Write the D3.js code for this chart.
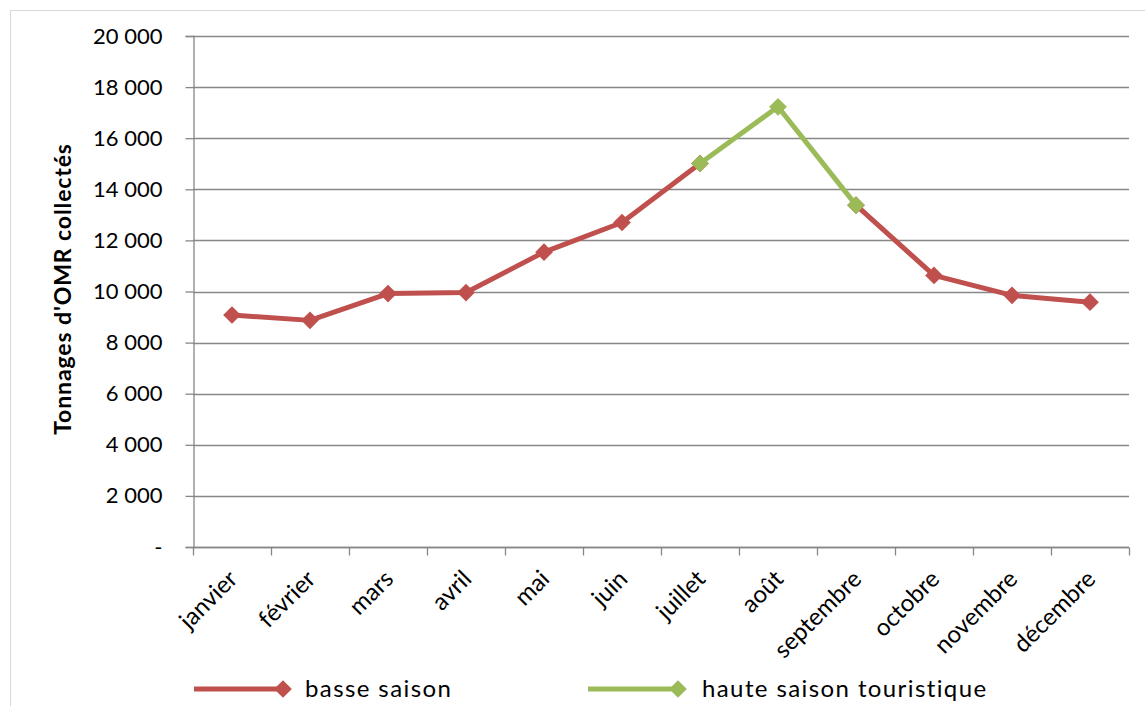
<!DOCTYPE html>
<html>
<head>
<meta charset="utf-8">
<script src="https://cdn.jsdelivr.net/npm/d3@7"></script>
<style>
  html, body { margin: 0; padding: 0; background: #fff; }
  svg text { font-family: Lato, "Open Sans", sans-serif; fill: #000; }
</style>
</head>
<body>
<svg id="chart" width="1145" height="706"></svg>
<script>
// Monthly household waste tonnage
const months = ["janvier", "février", "mars", "avril", "mai", "juin", "juillet", "août",
                "septembre", "octobre", "novembre", "décembre"];
// Low season (no value in August)
const basseSaison = [9080, 8870, 9920, 9960, 11540, 12700, 15010, null, 13380, 10630, 9850, 9580];
// High tourist season
const hauteSaison = [null, null, null, null, null, null, 15010, 17230, 13380, null, null, null];
const yTicks = [0, 2000, 4000, 6000, 8000, 10000, 12000, 14000, 16000, 18000, 20000];
const seriesNames = ["basse saison", "haute saison touristique"];
const colors = ["#C0504D", "#9BBB59"];

const svg = d3.select("#chart");
const W = 1145, H = 706;
const m = { left: 193, right: 1129, top: 36, bottom: 547 };

// outer chart frame
svg.append("rect")
  .attr("x", 10.5).attr("y", 10.5)
  .attr("width", W + 10).attr("height", H + 10)
  .attr("fill", "#fff").attr("stroke", "#d9d9d9").attr("stroke-width", 1);

const x = d3.scaleBand().domain(months).range([m.left, m.right]).padding(0);
const y = d3.scaleLinear().domain([0, 20000]).range([m.bottom, m.top]);

const fmt = v => v === 0 ? "-" : d3.format(",")(v).replace(/,/g, " ");

// horizontal gridlines
svg.append("g")
  .selectAll("line")
  .data(yTicks)
  .join("line")
  .attr("x1", m.left).attr("x2", m.right)
  .attr("y1", d => Math.round(y(d)) + 0.5).attr("y2", d => Math.round(y(d)) + 0.5)
  .attr("stroke", "#878787").attr("stroke-width", 1.3);

// y axis
const yAxis = svg.append("g")
  .attr("transform", `translate(${m.left + 0.5},0)`)
  .call(d3.axisLeft(y).tickValues(yTicks).tickSize(8).tickPadding(23).tickFormat(fmt));
yAxis.select(".domain").attr("stroke", "#878787").attr("stroke-width", 1.3);
yAxis.selectAll(".tick line").attr("stroke", "#878787").attr("stroke-width", 1.3);
yAxis.selectAll(".tick text")
  .style("font-size", "22px").style("font-family", "Lato, sans-serif")
  .style("white-space", "pre").attr("fill", "#000");

// x axis with ticks on category boundaries
const xAxisG = svg.append("g").attr("transform", `translate(0,${m.bottom + 0.5})`);
xAxisG.append("line")
  .attr("x1", m.left).attr("x2", m.right)
  .attr("stroke", "#878787").attr("stroke-width", 1.3);
const boundaries = months.map(d => x(d)).concat([x(months[months.length - 1]) + x.bandwidth()]);
xAxisG.selectAll("line.tk")
  .data(boundaries)
  .join("line")
  .attr("class", "tk")
  .attr("x1", d => Math.round(d) + 0.5).attr("x2", d => Math.round(d) + 0.5)
  .attr("y1", 0).attr("y2", 8)
  .attr("stroke", "#878787").attr("stroke-width", 1.3);
xAxisG.selectAll("text")
  .data(months)
  .join("text")
  .attr("transform", d => `translate(${x(d) + x.bandwidth() / 2 + 1},${27}) rotate(-45)`)
  .attr("text-anchor", "end")
  .attr("dy", "0.35em")
  .style("font-size", "24px")
  .text(d => d);

// y axis title
svg.append("text")
  .attr("transform", `translate(71,${289}) rotate(-90)`)
  .attr("text-anchor", "middle")
  .style("font-size", "23px")
  .style("font-weight", "bold")
  .style("letter-spacing", "0.9px")
  .text("Tonnages d'OMR collectés");

const cx = d => x(d) + x.bandwidth() / 2;
const line = d3.line()
  .defined(d => d.v !== null)
  .x(d => cx(d.m))
  .y(d => y(d.v));

const diamond = d3.symbol().type(d3.symbolDiamond2).size(200);

[basseSaison, hauteSaison].forEach((vals, i) => {
  const data = months.map((mo, k) => ({ m: mo, v: vals[k] }));
  svg.append("path")
    .datum(data)
    .attr("d", line)
    .attr("fill", "none")
    .attr("stroke", colors[i])
    .attr("stroke-width", 5)
    .attr("stroke-linejoin", "round");
  svg.append("g")
    .selectAll("path")
    .data(data.filter(d => d.v !== null))
    .join("path")
    .attr("d", diamond)
    .attr("transform", d => `translate(${cx(d.m)},${y(d.v)})`)
    .attr("fill", colors[i]);
});

// legend
const legendItems = [
  { name: seriesNames[0], color: colors[0], x0: 194, x1: 283, tx: 305 },
  { name: seriesNames[1], color: colors[1], x0: 588, x1: 678, tx: 702 }
];
const ly = 689;
const lg = svg.append("g");
legendItems.forEach(it => {
  lg.append("line")
    .attr("x1", it.x0).attr("x2", it.x1).attr("y1", ly).attr("y2", ly)
    .attr("stroke", it.color).attr("stroke-width", 5);
  lg.append("path")
    .attr("d", diamond)
    .attr("transform", `translate(${it.x1},${ly})`)
    .attr("fill", it.color);
  lg.append("text")
    .attr("x", it.tx).attr("y", ly)
    .attr("dy", "0.33em")
    .style("font-size", "24px")
    .style("letter-spacing", "1.4px")
    .text(it.name);
});
</script>
</body>
</html>
